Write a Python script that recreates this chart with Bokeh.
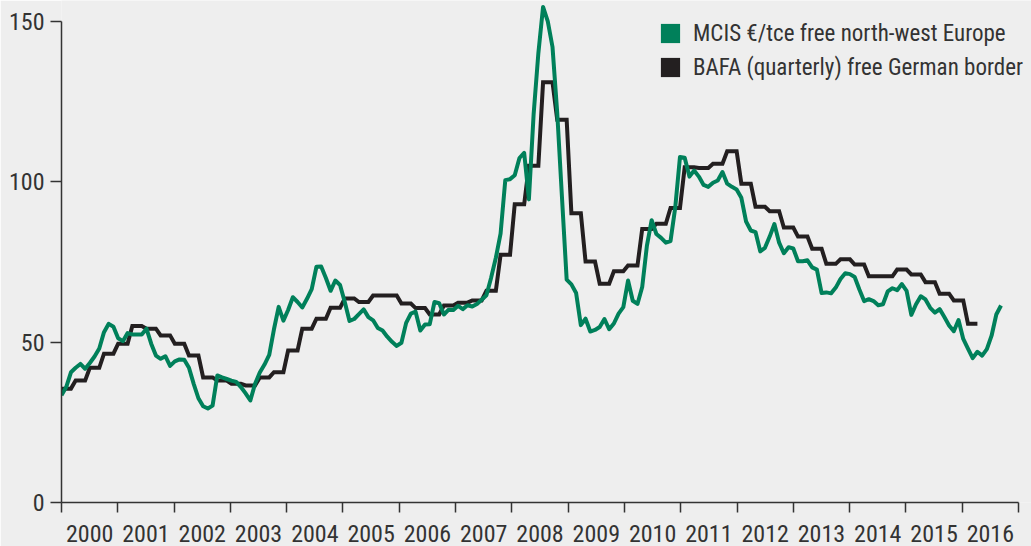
from bokeh.plotting import figure
from bokeh.models import (FixedTicker, CustomJSTickFormatter, Range1d, Legend,
                          LegendItem, ColumnDataSource)
from bokeh.embed import file_html
from bokeh.resources import INLINE

# ---------------- data ----------------
start_year = 2000
# MCIS coal marker, EUR/tce, monthly from Jan 2000
mcis = [
    33.4, 36.0, 40.6, 42.0, 43.2, 41.7, 43.5, 45.5, 48.0, 53.1, 55.7, 54.8,
    51.2, 50.3, 52.8, 52.4, 52.4, 52.4, 54.2, 49.5, 45.8, 44.8, 45.6, 42.6,
    44.0, 44.6, 44.5, 42.0, 37.0, 32.5, 30.0, 29.3, 30.2, 39.6, 39.0, 38.5,
    38.0, 37.6, 36.0, 34.0, 31.8, 37.0, 40.5, 43.0, 46.0, 54.0, 61.0, 56.7,
    60.0, 64.0, 62.5, 60.8, 63.5, 66.5, 73.5, 73.6, 70.0, 66.0, 69.2, 67.8,
    62.5, 56.6, 57.2, 58.7, 60.2, 57.8, 56.8, 54.4, 53.6, 51.7, 50.1, 48.8,
    49.8, 56.0, 58.9, 59.5, 53.6, 55.5, 55.6, 62.5, 62.1, 58.6, 60.1, 60.0,
    61.3, 60.3, 61.5, 61.1, 61.9, 63.2, 64.6, 70.1, 76.3, 83.8, 100.5, 100.8,
    102.0, 107.4, 109.0, 94.5, 121.0, 140.0, 154.5, 150.0, 142.0, 121.5, 95.3, 69.5,
    68.0, 65.3, 55.3, 57.3, 53.3, 53.8, 54.7, 57.2, 54.0, 55.8, 58.9, 60.9,
    69.2, 62.9, 61.9, 67.2, 80.1, 88.0, 83.7, 82.5, 81.0, 81.5, 92.0, 107.7,
    107.5, 101.6, 103.5, 101.6, 99.0, 98.4, 99.7, 100.4, 103.0, 99.4, 98.4, 97.6,
    95.0, 87.6, 84.8, 84.3, 78.3, 79.4, 82.9, 86.8, 81.0, 77.7, 79.6, 79.2,
    75.2, 75.2, 75.5, 73.3, 72.6, 65.3, 65.5, 65.2, 67.0, 69.7, 71.5, 71.2,
    70.3, 66.4, 62.8, 63.4, 62.8, 61.5, 61.8, 65.8, 66.8, 66.2, 68.1, 66.0,
    58.5, 61.8, 64.3, 63.3, 60.7, 59.2, 60.3, 57.8, 55.2, 53.4, 56.9, 51.0,
    48.0, 45.0, 47.0, 45.8, 47.8, 52.0, 58.6, 61.4,
]
# BAFA cross-border price, EUR/tce, quarterly from 2000 Q1
bafa_quarterly = [
    35.5, 38.0, 42.0, 46.4, 49.5, 55.0, 54.2, 52.1, 49.5, 45.8, 39.0, 38.0,
    37.0, 36.5, 39.0, 40.6, 47.4, 54.2, 57.3, 60.7, 63.6, 62.5, 64.5, 64.5,
    62.0, 60.6, 58.6, 61.4, 62.3, 63.0, 66.0, 77.2, 93.0, 105.0, 131.0, 119.3,
    90.2, 75.1, 68.2, 72.1, 73.9, 85.3, 86.9, 91.8, 104.5, 104.3, 105.6, 109.5,
    99.4, 92.2, 90.8, 85.7, 82.9, 79.1, 74.4, 75.8, 74.2, 70.5, 70.5, 72.6,
    71.1, 68.7, 65.1, 63.0, 55.7,
]
year_labels = list(range(2000, 2017))
y_ticks = [0, 50, 100, 150]
series_names = ["MCIS \u20ac/tce free north-west Europe",
                "BAFA (quarterly) free German border"]

GREEN = "#00805a"
BLACK = "#231f20"
BG = "#eeeeee"
TXT = "#333333"
FONT = "Roboto Condensed"

# the source chart spaces its monthly points slightly wider than the year grid
month_step = 1.0064 / 12

mcis_x = [start_year + i * month_step for i in range(len(mcis))]
bafa_monthly = [v for v in bafa_quarterly for _ in range(3)]
bafa_x = [start_year + i * month_step for i in range(len(bafa_monthly))]

# frame runs from x=61 px to the right edge; 2000..2017 spans 957 px
x_end = 2000 + 970 / (957 / 17)

p = figure(width=1031, height=546,
           x_range=Range1d(2000, x_end), y_range=Range1d(0, 156.5),
           output_backend="svg", toolbar_location=None,
           min_border_left=61, min_border_right=0, min_border_top=0,
           min_border_bottom=44,
           background_fill_color=BG, border_fill_color=BG,
           outline_line_color=None)
p.grid.visible = False

xa = p.xaxis[0]
xa.bounds = (2000, 2017)
xa.ticker = FixedTicker(ticks=[y + 0.5 for y in year_labels],
                        minor_ticks=list(range(2000, 2018)))
xa.formatter = CustomJSTickFormatter(code="return String(Math.floor(tick));")
xa.major_tick_line_color = None
xa.major_tick_out = 0
xa.major_tick_in = 0
xa.minor_tick_line_color = TXT
xa.minor_tick_line_width = 1.5
xa.minor_tick_out = 10
xa.minor_tick_in = 0
xa.axis_line_color = TXT
xa.axis_line_width = 1.5
xa.major_label_standoff = 12
xa.major_label_text_font = FONT
xa.major_label_text_font_size = "24px"
xa.major_label_text_color = TXT

ya = p.yaxis[0]
ya.ticker = FixedTicker(ticks=y_ticks)
ya.bounds = (0, 150)
ya.major_tick_out = 11
ya.major_tick_in = 0
ya.major_tick_line_color = TXT
ya.major_tick_line_width = 1.5
ya.minor_tick_line_color = None
ya.axis_line_color = TXT
ya.axis_line_width = 1.5
ya.major_label_standoff = 6
ya.major_label_text_font = FONT
ya.major_label_text_font_size = "24px"
ya.major_label_text_color = TXT

p.line(bafa_x, bafa_monthly, line_color=BLACK, line_width=4, line_join="miter")
p.line(mcis_x, mcis, line_color=GREEN, line_width=4, line_join="round")

nan = float("nan")
key_src = ColumnDataSource(dict(l=[nan], r=[nan], t=[nan], b=[nan]))
g_sq = p.quad(left="l", right="r", top="t", bottom="b", source=key_src,
              fill_color=GREEN, line_color=None)
k_sq = p.quad(left="l", right="r", top="t", bottom="b", source=key_src,
              fill_color=BLACK, line_color=None)
legend = Legend(items=[LegendItem(label=series_names[0], renderers=[g_sq]),
                       LegendItem(label=series_names[1], renderers=[k_sq])],
                location=(597, 421), glyph_width=24, glyph_height=24,
                label_standoff=11, padding=0, margin=0, spacing=6,
                label_height=28,
                border_line_color=None, background_fill_alpha=0,
                label_text_font=FONT, label_text_font_size="23px",
                label_text_color=TXT)
p.add_layout(legend)

html = file_html(p, INLINE)
html = html.replace("<body>", '<body style="background-color:#eeeeee;">', 1)
open("out.html", "w").write(html)
